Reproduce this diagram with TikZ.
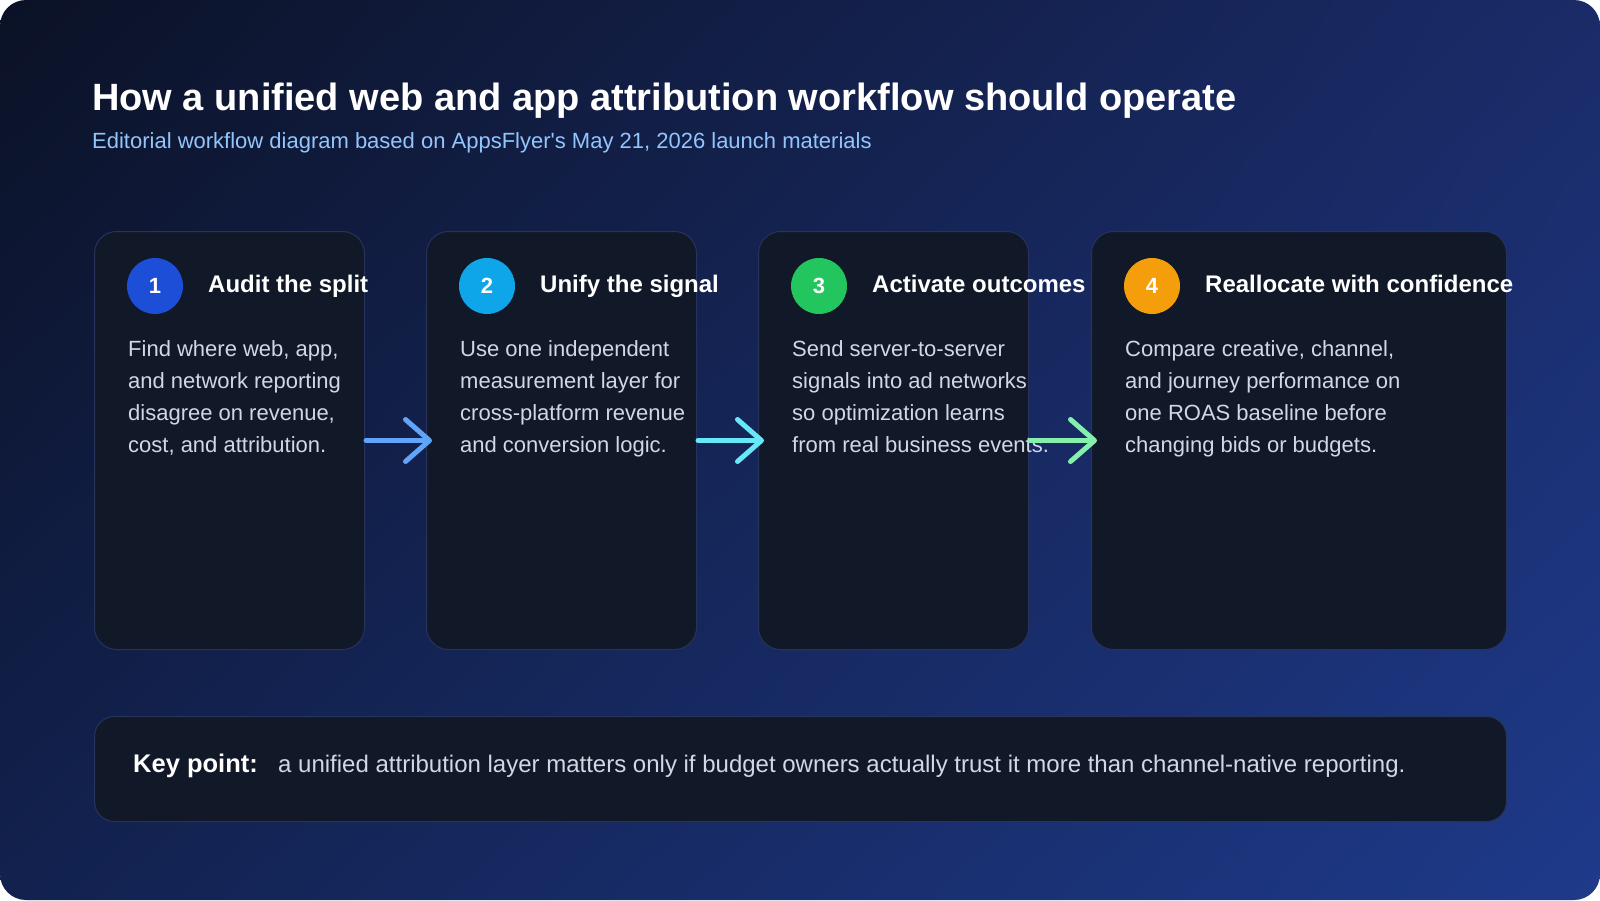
\documentclass[tikz,border=0pt]{standalone}
\usepackage{fontspec}
\setmainfont{Liberation Sans}
\usetikzlibrary{arrows.meta,shadings}
\definecolor{bgA}{HTML}{0B1226}
\definecolor{bgB}{HTML}{1A2B68}
\definecolor{bgC}{HTML}{12214E}
\definecolor{bgD}{HTML}{1E3A8A}
\definecolor{cardfill}{HTML}{111827}
\definecolor{cardline}{HTML}{27335A}
\definecolor{subblue}{HTML}{93C5FD}
\definecolor{bodygray}{HTML}{D1D8E4}
\definecolor{cA}{HTML}{1D4ED8}
\definecolor{cB}{HTML}{0EA5E9}
\definecolor{cC}{HTML}{22C55E}
\definecolor{cD}{HTML}{F59E0B}
\definecolor{arA}{HTML}{60A5FA}
\definecolor{arB}{HTML}{67E8F9}
\definecolor{arC}{HTML}{86EFAC}
\tikzset{
  card/.style={draw=cardline, line width=1pt, fill=cardfill, rounded corners=22pt, anchor=north west, inner sep=0pt},
  badge/.style={circle, minimum size=56pt, inner sep=0pt, text=white, font=\fontsize{22}{26}\selectfont\bfseries},
  heading/.style={anchor=base west, inner sep=0pt, text=white, font=\fontsize{24}{28}\selectfont\bfseries},
  bodytext/.style={anchor=base west, inner sep=0pt, text=bodygray, align=left, font=\fontsize{22}{32}\selectfont},
  flow/.style={line width=5pt, line cap=round, -{Straight Barb[length=24pt, width=42pt, line width=5pt, round]}, shorten >=-6pt, shorten <=1pt}
}
\begin{document}
\begin{tikzpicture}[x=1pt, y=-1pt]
\useasboundingbox (0,0) rectangle (1600,900);
\fill[white] (0,0) rectangle (1600,900);
\shade[rounded corners=26pt, upper left=bgA, upper right=bgB, lower left=bgC, lower right=bgD] (0,0) rectangle (1600,900);

\node[anchor=base west, inner sep=0pt, text=white, font=\fontsize{38}{42}\selectfont\bfseries] (title) at (92,110) {How a unified web and app attribution workflow should operate};
\node[anchor=base west, inner sep=0pt, text=subblue, font=\fontsize{22}{26}\selectfont] (subtitle) at (92,148) {Editorial workflow diagram based on AppsFlyer\textquotesingle s May 21, 2026 launch materials};

% cards
\node[card, minimum width=270pt, minimum height=418pt] (c1) at (94,231) {};
\node[card, minimum width=270pt, minimum height=418pt] (c2) at (426,231) {};
\node[card, minimum width=270pt, minimum height=418pt] (c3) at (758,231) {};
\node[card, minimum width=415pt, minimum height=418pt] (c4) at (1091,231) {};

% badges
\node[badge, fill=cA] (b1) at (155,286) {1};
\node[badge, fill=cB] (b2) at (487,286) {2};
\node[badge, fill=cC] (b3) at (819,286) {3};
\node[badge, fill=cD] (b4) at (1152,286) {4};

% headings
\node[heading] (h1) at (208,292) {Audit the split};
\node[heading] (h2) at (540,292) {Unify the signal};
\node[heading] (h3) at (872,292) {Activate outcomes};
\node[heading] (h4) at (1205,292) {Reallocate with confidence};

% bodies (base anchor = last line baseline)
\node[bodytext] (t1) at (128,452) {Find where web, app,\\and network reporting\\disagree on revenue,\\cost, and attribution.};
\node[bodytext] (t2) at (460,452) {Use one independent\\measurement layer for\\cross-platform revenue\\and conversion logic.};
\node[bodytext] (t3) at (792,452) {Send server-to-server\\signals into ad networks\\so optimization learns\\from real business events.};
\node[bodytext] (t4) at (1125,452) {Compare creative, channel,\\and journey performance on\\one ROAS baseline before\\changing bids or budgets.};

% arrows
\draw[flow, draw=arA] (c1.east) -- (c2.west);
\draw[flow, draw=arB] (c2.east) -- (c3.west);
\draw[flow, draw=arC] (c3.east) -- (c4.west);

% key point
\node[card, minimum width=1412pt, minimum height=105pt, rounded corners=20pt] (kp) at (94,716) {};
\node[anchor=base west, inner sep=0pt, text=white, font=\fontsize{25.5}{28}\selectfont\bfseries] (kpl) at (133,772) {Key point:};
\node[anchor=base west, inner sep=0pt, text=bodygray, font=\fontsize{24}{26}\selectfont] (kpt) at (278,772) {a unified attribution layer matters only if budget owners actually trust it more than channel-native reporting.};
\end{tikzpicture}
\end{document}
